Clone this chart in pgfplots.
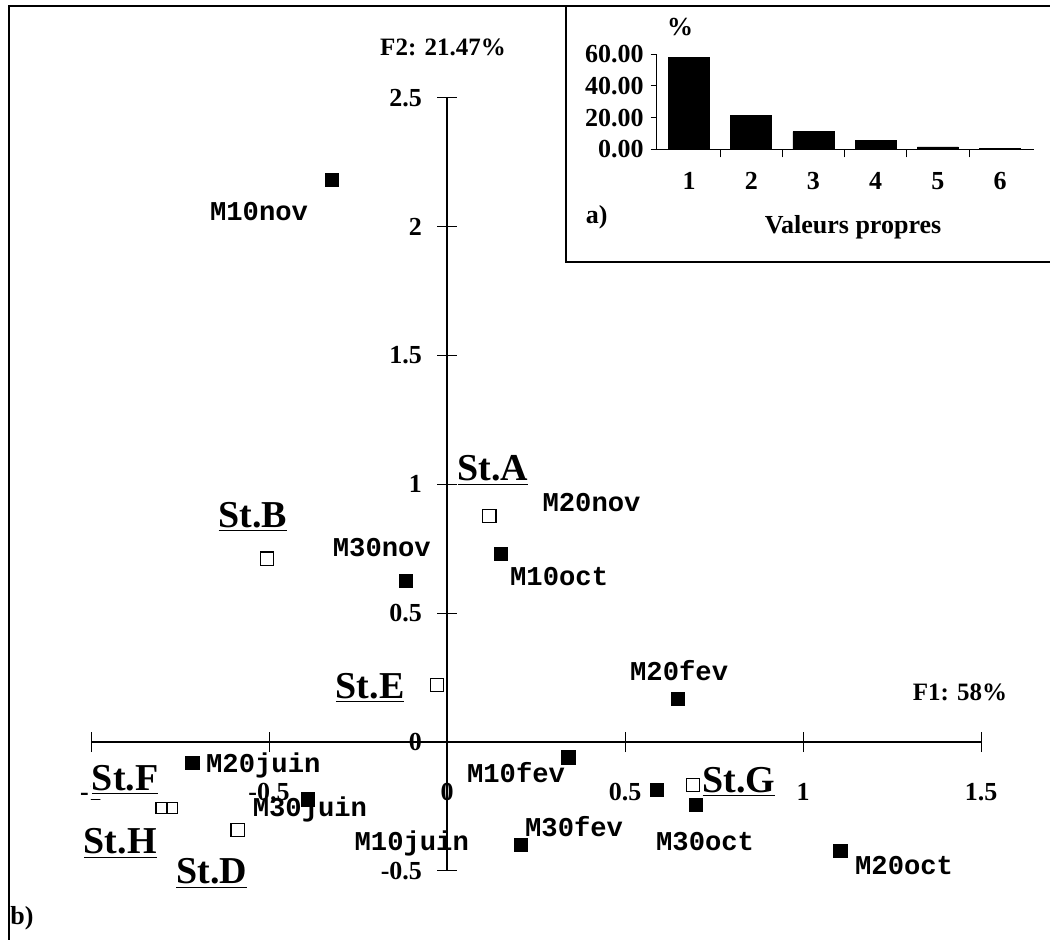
\documentclass[border=0pt]{standalone}
\usepackage{fontspec}
\setmainfont{Liberation Serif}
\newfontfamily\cour{Liberation Mono}
\usepackage{pgfplots}
\pgfplotsset{compat=1.18}
\tikzset{
 mlab/.style={font=\cour\fontsize{13.6}{15}\selectfont\bfseries},
 stlab/.style={font=\fontsize{19}{21}\selectfont\bfseries},
}
\begin{document}
\begin{tikzpicture}
\useasboundingbox (0,0) rectangle (525pt,470pt);
\draw[line width=0.8pt] (4.5pt,0) -- (4.5pt,467pt) -- (525pt,467pt);
\draw[line width=0.6pt] (283pt,467pt) -- (283pt,339pt) -- (525pt,339pt);
\begin{axis}[
 at={(45.5pt,34.5pt)}, anchor=south west,
 scale only axis, width=445pt, height=386.7pt,
 xmin=-1, xmax=1.5, ymin=-0.5, ymax=2.5,
 axis lines=middle, axis line style={-, line width=0.6pt},
 enlargelimits=false, clip=false,
 xtick={-1,-0.5,0,0.5,1,1.5}, xticklabels={-1,-0.5,0,0.5,1,1.5},
 ytick={-0.5,0,0.5,1,1.5,2,2.5}, yticklabels={-0.5,0,0.5,1,1.5,2,2.5},
 hide obscured x ticks=false, hide obscured y ticks=false,
 tick align=center, major tick length=10pt, tick style={black, line width=0.5pt},
 ticklabel style={font=\fontsize{13}{14}\selectfont\bfseries},
 xticklabel style={anchor=north, yshift=-12pt},
 yticklabel style={anchor=east, xshift=-4pt},
]
\addplot[only marks, mark=square*, mark size=3.3pt, mark options={fill=black, draw=black}] coordinates {
(-0.324,2.181) (-0.115,0.624) (0.151,0.731) (0.649,0.167) (0.341,-0.059)
(0.589,-0.185) (0.700,-0.244) (0.208,-0.398) (1.105,-0.422) (-0.715,-0.080) (-0.390,-0.222)};
\addplot[only marks, mark=square, mark size=3.3pt, mark options={draw=black, line width=0.6pt}] coordinates {
(0.119,0.877) (-0.506,0.712) (-0.028,0.221) (0.691,-0.166) (-0.588,-0.341)};
\node[mlab] at (axis cs:-0.528,2.058) {M10nov};
\node[mlab] at (axis cs:-0.183,0.753) {M30nov};
\node[mlab] at (axis cs:0.406,0.931) {M20nov};
\node[mlab] at (axis cs:0.315,0.641) {M10oct};
\node[mlab] at (axis cs:0.652,0.279) {M20fev};
\node[mlab] at (axis cs:0.194,-0.120) {M10fev};
\node[mlab] at (axis cs:0.357,-0.328) {M30fev};
\node[mlab] at (axis cs:0.725,-0.386) {M30oct};
\node[mlab] at (axis cs:1.284,-0.477) {M20oct};
\node[mlab] at (axis cs:-0.516,-0.089) {M20juin};
\node[mlab] at (axis cs:-0.385,-0.260) {M30juin};
\node[mlab] at (axis cs:-0.099,-0.395) {M10juin};
\node[stlab] at (axis cs:0.129,1.054) {\underline{St.A}};
\node[stlab] at (axis cs:-0.545,0.873) {\underline{St.B}};
\node[stlab] at (axis cs:-0.216,0.209) {\underline{St.E}};
\node[stlab] at (axis cs:0.820,-0.155) {\underline{St.G}};
\node[stlab] at (axis cs:-0.918,-0.393) {\underline{St.H}};
\node[stlab] at (axis cs:-0.661,-0.509) {\underline{St.D}};
\coordinate (stf) at (axis cs:-0.904,-0.147);
\node[font=\fontsize{12.5}{14}\selectfont\bfseries] at (axis cs:-0.011,2.694) {F2: 21.47\%};
\node[font=\fontsize{12.5}{14}\selectfont\bfseries] at (axis cs:1.441,0.194) {F1: 58\%};
\end{axis}
\node[stlab, fill=white, inner xsep=0.5pt, inner ysep=2pt] at (stf) {\underline{St.F}};
\begin{axis}[
 at={(45.5pt,34.5pt)}, anchor=south west,
 scale only axis, width=445pt, height=386.7pt,
 xmin=-1, xmax=1.5, ymin=-0.5, ymax=2.5,
 hide axis, clip=false,
]
\addplot[only marks, mark=square, mark size=2.75pt, mark options={draw=black, line width=0.6pt}] coordinates {
(-0.802,-0.257) (-0.772,-0.257)};
\end{axis}
\begin{axis}[
 at={(328.35pt,395.35pt)}, anchor=south west,
 scale only axis, width=188.5pt, height=47.5pt,
 xmin=0.48, xmax=6.54, ymin=0, ymax=60,
 axis x line=bottom, axis y line=left, axis line style={-, line width=0.6pt},
 ybar, bar width=20.5pt,
 xtick={1,2,3,4,5,6}, xticklabels={1,2,3,4,5,6},
 major x tick style={draw=none},
 minor xtick={1.5,2.5,3.5,4.5,5.5},
 ytick={0,20,40,60}, yticklabels={0.00,20.00,40.00,60.00},
 tick align=outside, major tick length=3pt, minor tick length=4pt,
 tick style={black, line width=0.5pt},
 ticklabel style={font=\fontsize{13}{15}\selectfont\bfseries},
 xticklabel style={yshift=-5pt},
 clip=false,
]
\addplot[fill=black, draw=black] coordinates {(1,58.1) (2,21.47) (3,11.2) (4,5.3) (5,1.5) (6,0.5)};
\end{axis}
\node[font=\fontsize{13}{15}\selectfont\bfseries] at (340pt,456.6pt) {\%};
\node[font=\fontsize{13}{15}\selectfont\bfseries] at (298.4pt,361.6pt) {a)};
\node[font=\fontsize{13}{15}\selectfont\bfseries] at (426.5pt,356.6pt) {Valeurs propres};
\node[font=\fontsize{13}{15}\selectfont\bfseries] at (11pt,11pt) {b)};
\end{tikzpicture}
\end{document}
